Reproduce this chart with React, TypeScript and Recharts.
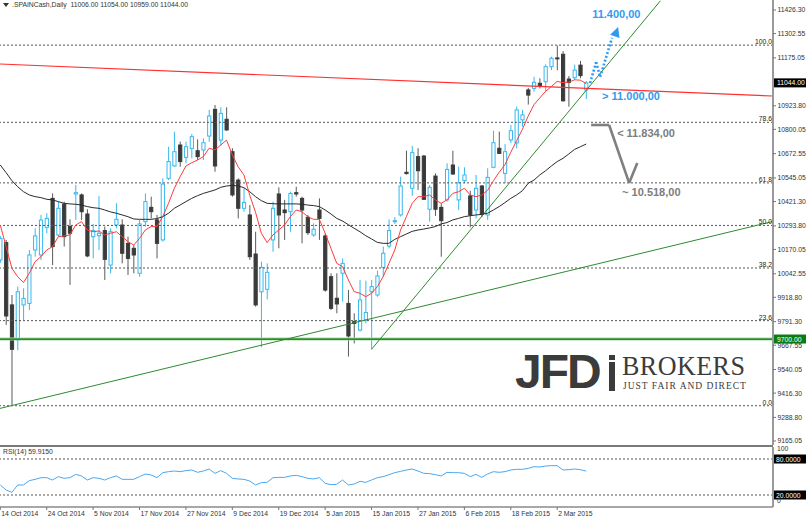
import React from "react";
import {
  ComposedChart,
  Bar,
  Line,
  XAxis,
  YAxis,
  ReferenceLine,
  ReferenceDot,
} from "recharts";

// bar index 0 = 14 Oct 2014, one label every 8 sessions
const dateLabels = [
  "14 Oct 2014", "24 Oct 2014", "5 Nov 2014", "17 Nov 2014", "27 Nov 2014",
  "9 Dec 2014", "19 Dec 2014", "5 Jan 2015", "15 Jan 2015", "27 Jan 2015",
  "6 Feb 2015", "18 Feb 2015", "2 Mar 2015",
];
const dateTicks = [0, 8, 16, 24, 32, 40, 48, 56, 64, 72, 80, 88, 96];

const opens = [
  10115, 10206, 9879, 9695, 9879, 9887, 10167, 10141, 10286, 10438,
  10246, 10408, 10290, 10461, 10456, 10356, 10237, 10242, 10269, 10088,
  10298, 10298, 10202, 10176, 10045, 10316, 10391, 10325, 10220, 10543,
  10608, 10718, 10653, 10700, 10688, 10692, 10765, 10905, 10744, 10853,
  10683, 10534, 10386, 10351, 10146, 9948, 9961, 10220, 10461, 10377,
  10368, 10468, 10438, 10339, 10246, 10377, 10241, 10027, 9914, 10045,
  9887, 9791, 9747, 9800, 9948, 9931, 10076, 10188, 10316, 10351,
  10575, 10491, 10657, 10660, 10381, 10555, 10391, 10430, 10613, 10430,
  10531, 10451, 10377, 10503, 10351, 10601, 10701, 10569, 10745, 10729,
  10850, 11007, 11015, 11042, 11050, 11129, 11175, 11194, 11064, 11071,
  11137, 11006,
];
const highs = [
  10240, 10220, 9931, 9975, 9966, 10167, 10281, 10351, 10360, 10464,
  10421, 10421, 10328, 10508, 10464, 10381, 10304, 10451, 10290, 10281,
  10412, 10328, 10237, 10193, 10325, 10464, 10447, 10351, 10543, 10709,
  10788, 10736, 10736, 10776, 10748, 10753, 10902, 10928, 10916, 10916,
  10701, 10543, 10491, 10403, 10263, 10106, 10097, 10421, 10496, 10430,
  10473, 10499, 10447, 10351, 10307, 10438, 10255, 10045, 10045, 10123,
  9957, 9835, 10010, 10006, 10010, 10059, 10185, 10328, 10339, 10552,
  10688, 10713, 10701, 10666, 10508, 10569, 10412, 10622, 10688, 10604,
  10601, 10478, 10561, 10508, 10596, 10793, 10788, 10723, 10823, 10920,
  10902, 11017, 11076, 11068, 11141, 11181, 11240, 11211, 11080, 11140,
  11159, 11054,
];
const lows = [
  10100, 9774, 9354, 9642, 9800, 9852, 10132, 10115, 10255, 10088,
  10237, 10185, 9984, 10325, 10325, 10129, 10123, 10167, 10010, 10045,
  10281, 10097, 10036, 10045, 10027, 10290, 10333, 10123, 10211, 10534,
  10604, 10604, 10622, 10648, 10639, 10639, 10735, 10578, 10713, 10793,
  10447, 10333, 10368, 10115, 9870, 9657, 9908, 10158, 10176, 10220,
  10263, 10447, 10202, 10246, 10237, 10220, 9948, 9852, 9835, 9896,
  9608, 9677, 9739, 9782, 9646, 9922, 10027, 10176, 10304, 10342,
  10563, 10451, 10482, 10430, 10316, 10346, 10132, 10421, 10561, 10377,
  10517, 10286, 10333, 10339, 10325, 10596, 10671, 10517, 10729, 10700,
  10814, 10930, 10998, 11015, 10998, 11111, 11110, 10945, 10919, 11059,
  11068, 10959,
];
const closes = [
  10228, 9821, 9646, 9948, 9913, 10141, 10241, 10324, 10333, 10185,
  10386, 10237, 10255, 10468, 10368, 10136, 10269, 10255, 10118, 10263,
  10328, 10150, 10123, 10141, 10304, 10421, 10368, 10202, 10513, 10631,
  10683, 10631, 10709, 10762, 10657, 10730, 10870, 10608, 10884, 10797,
  10456, 10386, 10416, 10132, 9879, 10076, 10050, 10386, 10351, 10363,
  10464, 10461, 10377, 10258, 10276, 10333, 9957, 9861, 9884, 10097,
  9716, 9782, 9905, 9839, 9975, 10031, 10150, 10269, 10321, 10503,
  10568, 10678, 10583, 10433, 10496, 10381, 10321, 10590, 10566, 10520,
  10561, 10351, 10491, 10356, 10548, 10730, 10674, 10683, 10793, 10902,
  10876, 10980, 11047, 11028, 11129, 11173, 11170, 10950, 11047, 11111,
  11082, 11044,
];

// fast (red) and slow (black) moving averages
const maFast = [
  10298, 10185, 10071, 10027, 9996, 10045, 10106, 10132, 10167, 10185,
  10237, 10241, 10246, 10298, 10316, 10272, 10263, 10267, 10246, 10255,
  10263, 10237, 10211, 10193, 10228, 10272, 10290, 10290, 10342, 10412,
  10491, 10552, 10608, 10625, 10639, 10657, 10701, 10692, 10718, 10744,
  10666, 10604, 10561, 10455, 10365, 10255, 10206, 10246, 10272, 10298,
  10342, 10377, 10368, 10342, 10328, 10328, 10255, 10176, 10097, 10080,
  10010, 9949, 9940, 9922, 9940, 9975, 10027, 10097, 10167, 10272,
  10342, 10412, 10447, 10447, 10456, 10430, 10412, 10430, 10464, 10473,
  10491, 10456, 10447, 10456, 10480, 10530, 10575, 10615, 10680, 10740,
  10800, 10870, 10930, 10965, 11000, 11025, 11052, 11045, 11048, 11060,
  11058, 11040,
];
const maSlow = [
  10613, 10573, 10531, 10499, 10473, 10456, 10447, 10442, 10433, 10430,
  10421, 10412, 10409, 10407, 10403, 10395, 10389, 10386, 10377, 10367,
  10360, 10351, 10342, 10330, 10328, 10328, 10328, 10332, 10342, 10360,
  10386, 10403, 10421, 10438, 10452, 10464, 10473, 10482, 10496, 10503,
  10506, 10503, 10494, 10473, 10447, 10426, 10412, 10410, 10409, 10409,
  10409, 10409, 10407, 10403, 10400, 10395, 10377, 10356, 10333, 10319,
  10300, 10281, 10263, 10242, 10225, 10207, 10202, 10202, 10223, 10237,
  10251, 10265, 10272, 10277, 10283, 10290, 10304, 10311, 10325, 10333,
  10342, 10347, 10351, 10354, 10360, 10377, 10395, 10416, 10438, 10456,
  10478, 10517, 10534, 10561, 10583, 10608, 10631, 10648, 10671, 10695,
  10709, 10723,
];
const rsi = [
  36.7, 28.3, 24.4, 36.7, 36.7, 43.9, 46.1, 48.9, 48.9, 45.0,
  50.6, 47.8, 48.9, 54.4, 51.7, 45.0, 48.9, 47.8, 45.0, 48.9,
  51.7, 46.1, 46.1, 46.1, 50.6, 55.0, 53.3, 48.9, 57.2, 58.9,
  60.0, 58.9, 60.6, 61.7, 57.8, 60.0, 63.3, 56.1, 60.6, 56.1,
  47.8, 46.7, 46.1, 43.3, 36.7, 40.6, 41.1, 48.9, 49.4, 49.4,
  51.7, 52.8, 50.6, 47.8, 46.7, 48.9, 39.4, 37.2, 37.8, 45.0,
  36.7, 38.3, 42.8, 41.1, 45.0, 48.9, 50.6, 53.9, 57.2, 59.4,
  61.7, 63.3, 60.0, 56.1, 55.6, 53.9, 51.7, 57.8, 57.2, 57.2,
  56.1, 50.6, 54.4, 49.4, 55.0, 58.9, 57.8, 58.9, 61.7, 62.8,
  62.8, 64.4, 67.2, 66.7, 68.3, 68.9, 68.9, 61.7, 62.2, 63.3,
  62.2, 59.9,
];

const priceTicks = [
  11426.3, 11302.55, 11175.05, 10923.8, 10800.05, 10672.55, 10545.05,
  10421.3, 10293.8, 10170.05, 10042.55, 9918.8, 9791.3, 9667.55, 9540.05,
  9416.3, 9288.8, 9165.05,
];
const lastClose = 11044;
const supportLevel = 9700;

// fibonacci retracement between the October low and the March high
const fibLow = 9350;
const fibHigh = 11242;
const fibLevels = [0, 23.6, 38.2, 50, 61.8, 78.6, 100];

// hand-drawn lines (bar index, price)
const redTrend = [{ i: -0.05, v: 11143 }, { i: 133.2, v: 10975 }];
const supportTrend = [{ i: -0.05, v: 9336 }, { i: 133.2, v: 10317 }];
const riseTrend = [{ i: 64, v: 9646 }, { i: 113.8, v: 11475 }];
const targetPath = [
  { i: 101.67, v: 11043 },
  { i: 102.71, v: 11153 },
  { i: 103.4, v: 11075 },
  { i: 105.45, v: 11280 },
];
const targetTip = { i: 106.5, v: 11337 };
const pullbackPath = [
  { i: 101.85, v: 10823 },
  { i: 104.95, v: 10823 },
  { i: 108.4, v: 10519 },
  { i: 109.8, v: 10624 },
];
const notes = [
  { text: "11.400,00", i: 101.16, v: 11405, color: "#2f9bf0" },
  { text: "> 11.000,00", i: 102.88, v: 10975, color: "#2f9bf0" },
  { text: "< 11.834,00", i: 105.47, v: 10781, color: "#7d7d7d" },
  { text: "~ 10.518,00", i: 106.33, v: 10471, color: "#7d7d7d" },
];

const X_DOMAIN: [number, number] = [-0.05, 133.2];
const FONT = "'Liberation Sans', Arial, sans-serif";
const BULL = "#36b8ee";
const BEAR = "#3a3a3a";

function Candle(props: any) {
  const { x, y, width, height, payload } = props;
  if (!payload) return null;
  const { o, h, l, c } = payload;
  const k = h === l ? 0 : height / (h - l);
  const cx = x + width / 2;
  const yo = y + (h - o) * k;
  const yc = y + (h - c) * k;
  const up = c >= o;
  const top = Math.min(yo, yc);
  const bh = Math.max(1, Math.abs(yo - yc));
  return (
    <g>
      <line x1={cx} x2={cx} y1={y} y2={y + height} stroke={up ? BULL : "#5a5a5a"} strokeWidth={1} />
      <rect
        x={cx - 1.6}
        y={top}
        width={3.2}
        height={bh}
        fill={up ? "#fff" : BEAR}
        stroke={up ? BULL : BEAR}
        strokeWidth={1}
      />
    </g>
  );
}

function PriceTick(props: any) {
  const { x, y, payload } = props;
  const v = payload.value;
  if (v === lastClose || v === supportLevel) {
    return (
      <g>
        <rect x={x + 1} y={y - 4.5} width={33} height={9} fill={v === lastClose ? "#000" : "#0a7a12"} />
        <text x={x + 4} y={y + 2.5} fontSize={6.8} fill="#fff" fontFamily={FONT}>
          {v.toFixed(2)}
        </text>
      </g>
    );
  }
  return (
    <g>
      <line x1={x} x2={x + 3} y1={y} y2={y} stroke="#777" />
      <text x={x + 4.5} y={y + 2.4} fontSize={6.8} fill="#333" fontFamily={FONT}>
        {v.toFixed(2)}
      </text>
    </g>
  );
}

function RsiTick(props: any) {
  const { x, y, payload } = props;
  const v = payload.value;
  return (
    <g>
      <rect x={x + 1} y={y - 4.5} width={33} height={9} fill="#000" />
      <text x={x + 3} y={y + 2.5} fontSize={6.8} fill="#fff" fontFamily={FONT}>
        {v.toFixed(4)}
      </text>
    </g>
  );
}

function DateTick(props: any) {
  const { x, y, payload } = props;
  const idx = dateTicks.indexOf(payload.value);
  return (
    <g>
      <line x1={x} x2={x} y1={y} y2={y + 3} stroke="#777" />
      <text x={x + 1} y={y + 9} fontSize={6.8} fill="#333" fontFamily={FONT}>
        {dateLabels[idx]}
      </text>
    </g>
  );
}

function ArrowHead(props: any) {
  const { cx, cy } = props;
  if (cx == null || cy == null) return null;
  // pointing along the last leg of the dotted path
  const ux = 0.33;
  const uy = -0.944;
  const bx = cx - 10 * ux;
  const by = cy - 10 * uy;
  const px = -uy * 5;
  const py = ux * 5;
  return (
    <polygon
      points={`${cx},${cy} ${bx + px},${by + py} ${bx - px},${by - py}`}
      fill="#2f9bf0"
    />
  );
}

function segs(pts: { i: number; v: number }[]) {
  const out: { x: number; y: number }[][] = [];
  for (let k = 0; k < pts.length - 1; k++) {
    out.push([
      { x: pts[k].i, y: pts[k].v },
      { x: pts[k + 1].i, y: pts[k + 1].v },
    ]);
  }
  return out;
}

export default function App() {
  const rows = opens.map((o, i) => ({
    i,
    o,
    h: highs[i],
    l: lows[i],
    c: closes[i],
    range: [lows[i], highs[i]],
    ma1: maFast[i],
    ma2: maSlow[i],
  }));
  const rsiRows = rsi.map((r, i) => ({ i, rsi: r }));

  return (
    <div
      style={{
        position: "absolute",
        left: 0,
        top: 0,
        width: 806,
        height: 518,
        background: "#fff",
        fontFamily: FONT,
        overflow: "hidden",
      }}
    >
      <div style={{ position: "absolute", left: 0, top: 0 }}>
        <ComposedChart width={806} height={445} data={rows} margin={{ top: 0, right: 0, bottom: 0, left: 0 }}>
          <XAxis type="number" dataKey="i" domain={X_DOMAIN} hide allowDataOverflow />
          <YAxis
            orientation="right"
            width={33}
            domain={[9144, 11478.8]}
            allowDataOverflow
            ticks={[...priceTicks, lastClose, supportLevel]}
            interval={0}
            tick={<PriceTick />}
            tickLine={false}
            tickSize={0}
            tickMargin={0}
            axisLine={{ stroke: "#9a9a9a", strokeWidth: 2 }}
          />
          {fibLevels.map((p) => (
            <ReferenceLine
              key={p}
              y={fibLow + ((fibHigh - fibLow) * p) / 100}
              stroke="#555"
              strokeDasharray="2 2"
              label={{
                value: p.toFixed(1),
                position: "insideBottomRight",
                offset: 1,
                fontSize: 6.8,
                fill: "#222",
              }}
            />
          ))}
          <ReferenceLine y={supportLevel} stroke="#9fdc9f" strokeWidth={3} />
          <ReferenceLine y={supportLevel} stroke="#0b6e0b" strokeWidth={1.2} />
          <ReferenceLine segment={segs(redTrend)[0]} stroke="#ff3030" strokeWidth={1.2} />
          <ReferenceLine segment={segs(supportTrend)[0]} stroke="#2e8b2e" strokeWidth={1} />
          <ReferenceLine segment={segs(riseTrend)[0]} stroke="#2e8b2e" strokeWidth={1} />
          <Bar dataKey="range" barSize={4} shape={<Candle />} activeBar={false} isAnimationActive={false} />
          <Line type="linear" dataKey="ma2" stroke="#2a2a2a" strokeWidth={1} dot={false} activeDot={false} isAnimationActive={false} />
          <Line type="linear" dataKey="ma1" stroke="#ff3b3b" strokeWidth={1} dot={false} activeDot={false} isAnimationActive={false} />
          {segs(targetPath).map((s, k) => (
            <ReferenceLine key={"t" + k} segment={s} stroke="#2f9bf0" strokeWidth={2.6} strokeDasharray="2 2" />
          ))}
          <ReferenceDot x={targetTip.i} y={targetTip.v} r={5} shape={<ArrowHead />} />
          {segs(pullbackPath).map((s, k) => (
            <ReferenceLine key={"p" + k} segment={s} stroke="#7f7f7f" strokeWidth={2.6} />
          ))}
          {notes.map((n) => (
            <ReferenceDot
              key={n.text}
              x={n.i}
              y={n.v}
              r={1}
              fill="none"
              stroke="none"
              label={{
                value: n.text,
                position: "right",
                offset: 4,
                fontSize: 11,
                fontWeight: 700,
                fill: n.color,
              }}
            />
          ))}
        </ComposedChart>
      </div>

      <div style={{ position: "absolute", left: 0, top: 445, width: 773, height: 2, background: "#7a7a7a" }} />

      <div style={{ position: "absolute", left: 0, top: 447 }}>
        <ComposedChart width={806} height={71} data={rsiRows} margin={{ top: 0, right: 0, bottom: 0, left: 0 }}>
          <XAxis
            type="number"
            dataKey="i"
            domain={X_DOMAIN}
            allowDataOverflow
            height={11}
            ticks={dateTicks}
            interval={0}
            tick={<DateTick />}
            tickLine={false}
            tickSize={0}
            tickMargin={0}
            axisLine={{ stroke: "#8a8a8a", strokeWidth: 1.5 }}
          />
          <YAxis
            orientation="right"
            width={33}
            domain={[0, 100]}
            ticks={[80, 20]}
            interval={0}
            tick={<RsiTick />}
            tickLine={false}
            tickSize={0}
            tickMargin={0}
            axisLine={{ stroke: "#9a9a9a", strokeWidth: 2 }}
          />
          <ReferenceLine y={80} stroke="#555" strokeDasharray="2 2" />
          <ReferenceLine y={20} stroke="#555" strokeDasharray="2 2" />
          <Line type="linear" dataKey="rsi" stroke="#4aa8f0" strokeWidth={1} dot={false} activeDot={false} isAnimationActive={false} />
        </ComposedChart>
      </div>
      <div style={{ position: "absolute", left: 777, top: 446, fontSize: 6.8, color: "#333", lineHeight: 1 }}>100</div>
      <div style={{ position: "absolute", left: 777, top: 498, fontSize: 6.8, color: "#333", lineHeight: 1 }}>0</div>

      <div style={{ position: "absolute", left: 3, top: 1, fontSize: 6.8, color: "#333", whiteSpace: "pre", display: "flex", alignItems: "center" }}>
        <svg width={6} height={6} style={{ marginRight: 3 }}>
          <polygon points="0,1 6,1 3,5" fill="#333" />
        </svg>
        {".SPAINCash,Daily  11006.00 11054.00 10959.00 11044.00"}
      </div>
      <div style={{ position: "absolute", left: 3, top: 448, fontSize: 6.8, color: "#333" }}>RSI(14) 59.9150</div>

      <div style={{ position: "absolute", left: 515, top: 348, fontSize: 48, fontWeight: 700, color: "#3b3b3b", letterSpacing: -2, lineHeight: 1 }}>
        JFD
      </div>
      <div style={{ position: "absolute", left: 609, top: 362, width: 6, height: 29, background: "#3b3b3b" }} />
      <div style={{ position: "absolute", left: 609, top: 355, width: 6, height: 5, background: "#3b3b3b" }} />
      <div
        style={{
          position: "absolute",
          left: 622,
          top: 352,
          fontSize: 28,
          fontFamily: "'Liberation Serif', serif",
          color: "#3b3b3b",
          letterSpacing: 0.5,
          lineHeight: 1,
          whiteSpace: "nowrap",
          transform: "scaleX(0.93)",
          transformOrigin: "left top",
        }}
      >
        BROKERS
      </div>
      <div
        style={{
          position: "absolute",
          left: 623,
          top: 382,
          fontSize: 9.5,
          fontFamily: "'Liberation Serif', serif",
          color: "#3b3b3b",
          letterSpacing: 1,
          lineHeight: 1,
          whiteSpace: "nowrap",
        }}
      >
        JUST FAIR AND DIRECT
      </div>
    </div>
  );
}
